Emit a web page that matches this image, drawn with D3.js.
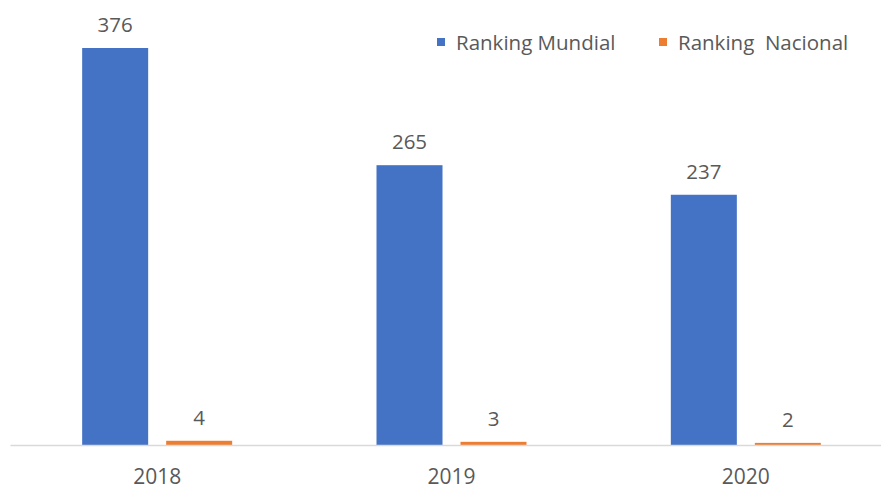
<!DOCTYPE html>
<html>
<head>
    <style>
        body { margin: 0; background: #fff; font-family: "Open Sans", "Liberation Sans", sans-serif; }
        text { fill: #595959; }
        .legend text { white-space: pre; }
    </style>
</head>
<body>
    <div id="chart"></div>
    <script src="https://d3js.org/d3.v7.min.js"></script>
    <script>
        var years = ["2018", "2019", "2020"];
        var seriesNames = ["Ranking Mundial", "Ranking  Nacional"];
        var mundial = [376, 265, 237];
        var nacional = [4, 3, 2];
        var colors = ["#4472C4", "#ED7D31"];

        var width = 881, height = 487;
        var svg = d3.select("#chart").append("svg")
            .attr("width", width)
            .attr("height", height);

        var x0 = d3.scaleBand().domain(years).range([10, 893]);
        var x1 = d3.scaleBand().domain([0, 1]).range([0, 150]).paddingInner(0.2143);
        var y = d3.scaleLinear().domain([0, 376]).range([445, 48]);

        var rows = years.map(function(yr, i) {
            return { year: yr, values: [mundial[i], nacional[i]] };
        });

        var groups = svg.selectAll("g.year")
            .data(rows)
            .enter().append("g")
            .attr("class", "year")
            .attr("transform", function(d) {
                return "translate(" + (x0(d.year) + x0.bandwidth() / 2 - 75) + ",0)";
            });

        groups.selectAll("rect")
            .data(function(d) { return d.values; })
            .enter().append("rect")
            .attr("x", function(d, i) { return x1(i); })
            .attr("width", x1.bandwidth())
            .attr("y", function(d) { return y(d); })
            .attr("height", function(d) { return y(0) - y(d); })
            .attr("fill", function(d, i) { return colors[i]; });

        groups.selectAll("text.val")
            .data(function(d) { return d.values; })
            .enter().append("text")
            .attr("class", "val")
            .attr("x", function(d, i) { return x1(i) + x1.bandwidth() / 2; })
            .attr("y", function(d) { return y(d) - 16; })
            .attr("text-anchor", "middle")
            .attr("font-size", 20.5)
            .text(function(d) { return d; });

        // axis
        var axis = svg.append("g")
            .attr("transform", "translate(0," + y(0) + ")")
            .call(d3.axisBottom(x0).tickSize(0).tickPadding(24));
        axis.select(".domain").attr("stroke", "#D9D9D9").attr("stroke-width", 1.5);
        axis.selectAll("text").attr("font-size", 21).style("fill", "#595959")
            .attr("font-family", "'Open Sans', 'Liberation Sans', sans-serif");

        // legend
        var legendX = [437, 659];
        var legend = svg.append("g").attr("class", "legend");
        seriesNames.forEach(function(name, i) {
            legend.append("rect")
                .attr("x", legendX[i]).attr("y", 38)
                .attr("width", 8).attr("height", 8)
                .attr("fill", colors[i]);
            legend.append("text")
                .attr("x", legendX[i] + 19).attr("y", 49.5)
                .attr("font-size", 20.5)
                .text(name);
        });
    </script>
</body>
</html>
